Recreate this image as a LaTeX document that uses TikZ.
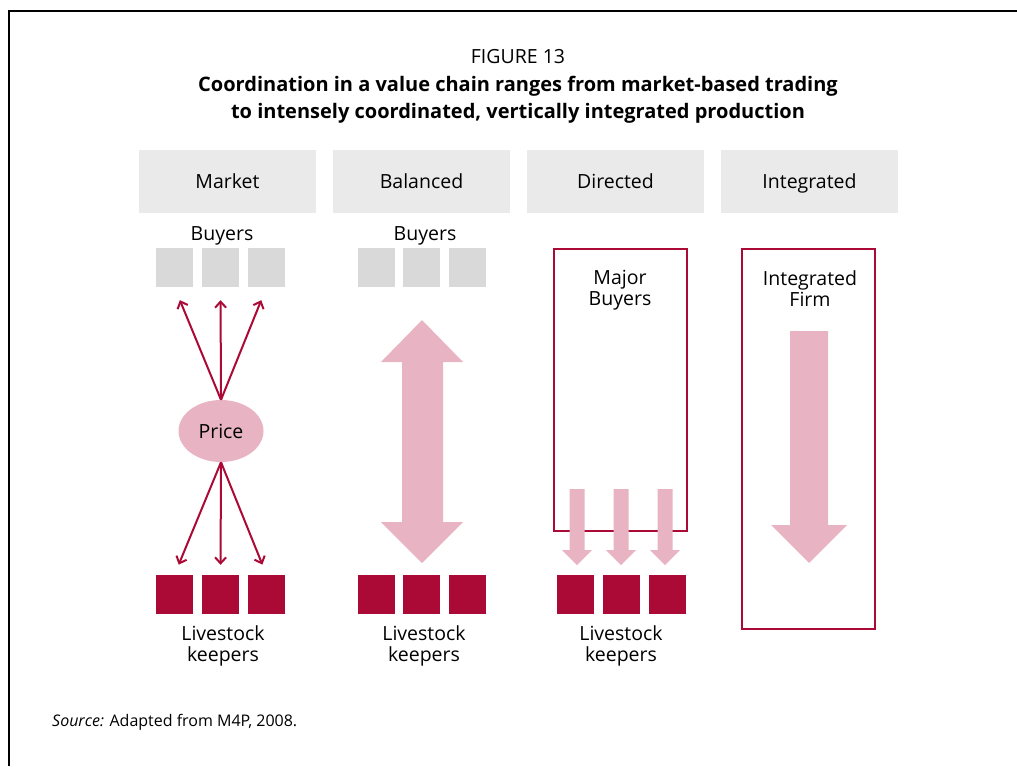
\documentclass[tikz,border=0pt]{standalone}
\usepackage{fontspec}
\setmainfont{Open Sans}
\usetikzlibrary{shapes.geometric,arrows.meta}
\definecolor{crim}{HTML}{AA0A35}
\definecolor{pinkf}{HTML}{E8B4C3}
\definecolor{hdr}{HTML}{EAEAEA}
\definecolor{buy}{HTML}{D9D9D9}
\begin{document}
\begin{tikzpicture}[x=1pt,y=-1pt,
 hdrbox/.style={fill=hdr, minimum width=177pt, minimum height=63pt, inner sep=0pt, text height=15pt, text depth=2pt, font=\fontsize{19.5}{21}\selectfont},
 buyer/.style={fill=buy, minimum width=37pt, minimum height=39pt, inner sep=0pt},
 keeper/.style={fill=crim, minimum width=37pt, minimum height=39pt, inner sep=0pt},
 lbl/.style={font=\fontsize{19.5}{21}\selectfont, align=center, inner sep=0pt},
 thinarr/.style={draw=crim, line width=2pt, -{Straight Barb[length=6pt,width=11pt,line width=2pt]}},
 bigarr/.style={fill=pinkf},
 framebox/.style={draw=crim, line width=2pt, inner sep=0pt}]
\useasboundingbox (0,0) rectangle (1017,766);
\draw[line width=1.5pt] (9,766) -- (9,11) -- (1017,11);
% titles
\node[lbl] (fig) at (518,57) {FIGURE 13};
\node[lbl, font=\bfseries\fontsize{20}{27}\selectfont] (title) at (518,100) {Coordination in a value chain ranges from market-based trading\\to intensely coordinated, vertically integrated production};
% headers
\node[hdrbox] (h1) at (227.5,181.5) {Market};
\node[hdrbox] (h2) at (421.5,181.5) {Balanced};
\node[hdrbox] (h3) at (615.5,181.5) {Directed};
\node[hdrbox] (h4) at (809.5,181.5) {Integrated};
% buyers
\node[lbl] (buyA) at (222,236) {Buyers};
\node[lbl] (buyB) at (425,236) {Buyers};
\node[buyer] (b1) at (174.5,267.5) {};
\node[buyer] (b2) at (220.5,267.5) {};
\node[buyer] (b3) at (266.5,267.5) {};
\node[buyer] (b4) at (376.5,267.5) {};
\node[buyer] (b5) at (421.5,267.5) {};
\node[buyer] (b6) at (467.5,267.5) {};
% keepers
\foreach \n/\x in {k1/174.5,k2/220.5,k3/266.5,k4/376.5,k5/421.5,k6/467.5,k7/575.5,k8/621.5,k9/667.5}
  \node[keeper] (\n) at (\x,594.5) {};
\node[lbl] (lkA) at (223,646) {Livestock\\keepers};
\node[lbl] (lkB) at (424,646) {Livestock\\keepers};
\node[lbl] (lkC) at (621,646) {Livestock\\keepers};
% market
\node[ellipse, fill=pinkf, minimum width=85pt, minimum height=62pt, inner sep=0pt, font=\fontsize{19.5}{21}\selectfont] (price) at (221,431) {Price};
\draw[thinarr, shorten >=14pt] (price.north) -- (b1.south);
\draw[thinarr, shorten >=13pt] (price.north) -- (b2.south);
\draw[thinarr, shorten >=14pt] (price.north) -- (b3.south);
\draw[thinarr, shorten >=11pt] (price.south) -- (k1.north);
\draw[thinarr, shorten >=10pt] (price.south) -- (k2.north);
\draw[thinarr, shorten >=11pt] (price.south) -- (k3.north);
% balanced
\fill[bigarr] (422,320) -- (463,362) -- (443,362) -- (443,522) -- (463,522) -- (422,563) -- (381,522) -- (402,522) -- (402,362) -- (381,362) -- cycle;
% directed
\node[framebox, minimum width=133pt, minimum height=282pt] (dbox) at (620.5,390) {};
\node[lbl] (major) at (620,290) {Major\\Buyers};
\foreach \c in {577,621,665}
  \fill[bigarr] (\c-7.5,489) -- (\c+7.5,489) -- (\c+7.5,550) -- (\c+15,550) -- (\c,565) -- (\c-15,550) -- (\c-7.5,550) -- cycle;
% integrated
\node[framebox, minimum width=133pt, minimum height=380pt] (ibox) at (808.5,439) {};
\node[lbl] (firm) at (810,289) {Integrated\\Firm};
\fill[bigarr] (790,331) -- (828,331) -- (828,525) -- (847,525) -- (809,563) -- (771,525) -- (790,525) -- cycle;
% source
\node[anchor=west, inner sep=0pt, font=\fontsize{16}{18}\selectfont] (src) at (52,722) {\textit{Source:} Adapted from M4P, 2008.};
\end{tikzpicture}
\end{document}
